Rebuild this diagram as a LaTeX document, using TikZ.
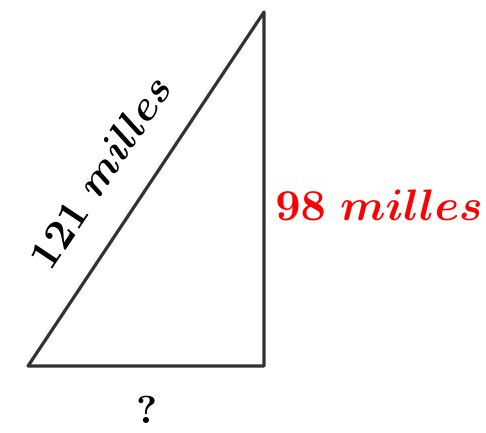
\documentclass[tikz,border=0pt]{standalone}
\begin{document}
\begin{tikzpicture}[x=1pt,y=-1pt,
  side/.style={line width=3.2pt, draw=black!80, line join=round},
  lbl/.style={inner sep=0pt, scale=4.2, font=\boldmath}]
\useasboundingbox (0,0) rectangle (486,432);
\coordinate (A) at (28,366);
\coordinate (B) at (264,366);
\coordinate (C) at (264,12);
\draw[side] (A) -- (B) -- (C) -- cycle;
\node[lbl, rotate=56.3] (hyp) at (100,172) {$121\;milles$};
\node[lbl, text=red, scale=1.05] (leg) at (379,205) {$98\;milles$};
\node[inner sep=0pt, scale=3.9, font=\bfseries] (q) at (147,410) {?};
\end{tikzpicture}
\end{document}
